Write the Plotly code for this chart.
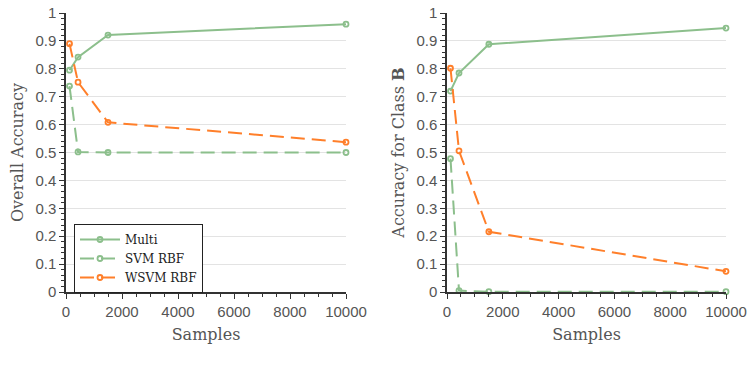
import plotly.graph_objects as go

samples = [125, 430, 1500, 10000]

overall_multi = [0.795, 0.842, 0.921, 0.960]
overall_svm = [0.738, 0.502, 0.500, 0.500]
overall_wsvm = [0.890, 0.752, 0.608, 0.537]

classb_multi = [0.720, 0.785, 0.888, 0.946]
classb_svm = [0.478, 0.005, 0.001, 0.001]
classb_wsvm = [0.802, 0.506, 0.216, 0.074]

y_ticks = [0, 0.1, 0.2, 0.3, 0.4, 0.5, 0.6, 0.7, 0.8, 0.9, 1]
y_ticktext = ["0", "0.1", "0.2", "0.3", "0.4", "0.5", "0.6", "0.7", "0.8", "0.9", "1"]
x_ticks = [0, 2000, 4000, 6000, 8000, 10000]
x_ticktext = ["0", "2000", "4000", "6000", "8000", "10000"]

GREEN = "#8cbf8c"
ORANGE = "#ff7f2a"
W, H = 749, 378

fig = go.Figure()

series = [
    ("Multi", GREEN, "solid"),
    ("SVM RBF", GREEN, "14px,7px"),
    ("WSVM RBF", ORANGE, "14px,7px"),
]

for (name, color, dash), ys in zip(series, [overall_multi, overall_svm, overall_wsvm]):
    fig.add_trace(go.Scatter(
        x=samples, y=ys, name=name, mode="lines+markers",
        line=dict(color=color, width=2, dash=dash),
        marker=dict(symbol="circle-open", size=5, color=color, line=dict(width=1.8)),
        cliponaxis=False, xaxis="x", yaxis="y", showlegend=True))

for (name, color, dash), ys in zip(series, [classb_multi, classb_svm, classb_wsvm]):
    fig.add_trace(go.Scatter(
        x=samples, y=ys, name=name, mode="lines+markers",
        line=dict(color=color, width=2, dash=dash),
        marker=dict(symbol="circle-open", size=5, color=color, line=dict(width=1.8)),
        cliponaxis=False, xaxis="x2", yaxis="y2", showlegend=False))

TICKFONT = dict(family="Liberation Sans, Arial", size=15, color="#555")
TITLEFONT = dict(family="DejaVu Serif", size=16, color="#555")

def xaxis(domain, anchor):
    return dict(
        domain=domain, anchor=anchor, range=[0, 10000], automargin=False,
        tickvals=x_ticks, ticktext=x_ticktext, ticks="outside", ticklen=5, tickwidth=1, tickcolor="#333",
        showline=True, linecolor="#333", linewidth=1.5, showgrid=False, zeroline=False,
        tickfont=TICKFONT,
        title=dict(text="Samples", font=TITLEFONT, standoff=10),
        minor=dict(dtick=500, ticks="outside", ticklen=3, tickcolor="#333", showgrid=False),
    )

def yaxis(domain, anchor, title):
    return dict(
        domain=domain, anchor=anchor, range=[0, 1], automargin=False,
        tickvals=y_ticks, ticktext=y_ticktext, ticks="outside", ticklen=5, tickwidth=1, tickcolor="#333",
        showline=True, linecolor="#333", linewidth=1.5, showgrid=True, gridcolor="#e3e3e3", gridwidth=1.2,
        zeroline=False,
        tickfont=TICKFONT,
        title=dict(text=title, font=TITLEFONT, standoff=8),
        minor=dict(dtick=0.02, ticks="outside", ticklen=3, tickcolor="#333", showgrid=False),
    )

ydom = [1 - 292 / H, 1 - 13 / H]
fig.update_layout(
    width=W, height=H,
    margin=dict(l=0, r=0, t=0, b=0, autoexpand=False),
    paper_bgcolor="white", plot_bgcolor="white",
    xaxis=xaxis([66 / W, 346 / W], "y"),
    yaxis=yaxis(ydom, "x", "Overall Accuracy"),
    xaxis2=xaxis([447 / W, 726 / W], "y2"),
    yaxis2=yaxis(ydom, "x2", "Accuracy for Class <b>B</b>"),
    legend=dict(
        x=74 / W, y=1 - 224 / H, xanchor="left", yanchor="top",
        bgcolor="white", bordercolor="#222", borderwidth=1,
        font=dict(family="DejaVu Serif", size=12, color="#222"),
        tracegroupgap=0, itemwidth=40,
    ),
)

fig.write_html("out.html")
